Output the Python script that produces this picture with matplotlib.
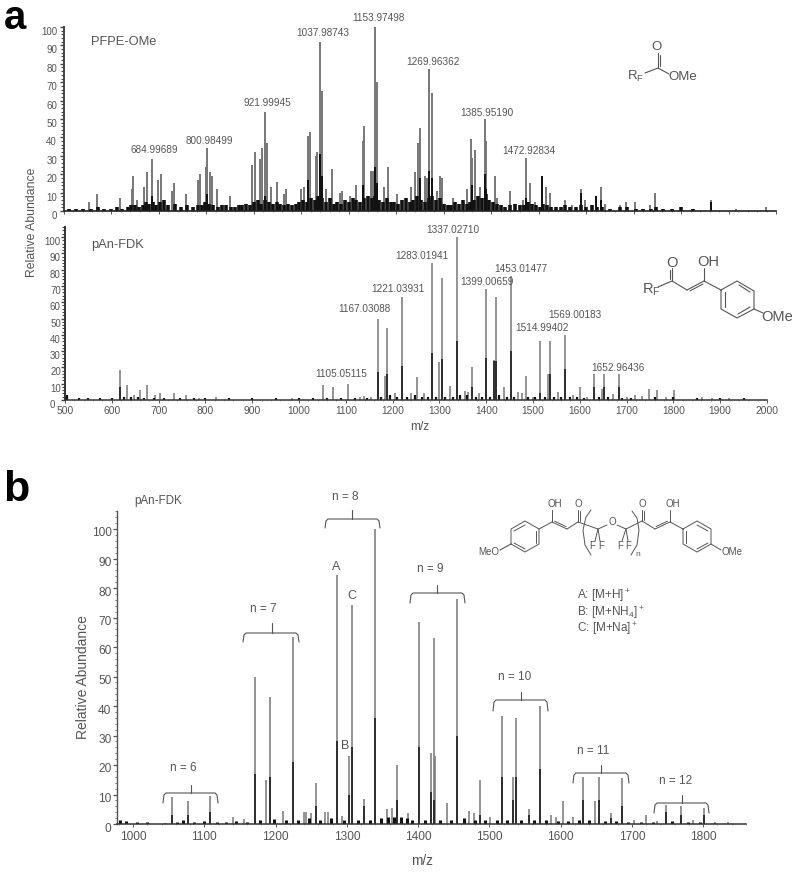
import numpy as np
import matplotlib
matplotlib.use("Agg")
import matplotlib.pyplot as plt
from matplotlib.transforms import ScaledTranslation
from matplotlib.ticker import MultipleLocator

plt.rcParams['font.family'] = ['Liberation Sans', 'DejaVu Sans']
plt.rcParams['mathtext.fontset'] = 'custom'
plt.rcParams['mathtext.rm'] = 'Liberation Sans'
plt.rcParams['mathtext.default'] = 'rm'

# ---------- panel a, top: PFPE-OMe ----------
top_mz = [553,570,618,643,646,653,668,674,685,699,704,727,732,757,783,786,799,802,807,812,822,850,
          897,902,913,918,923,927,937,949,963,967,1000,1005,1014,1018,1031,1034,1039,1043,1053,1065,
          1081,1085,1102,1116,1130,1133,1146,1150,1155,1160,1174,1182,1201,
          1232,1240,1245,1250,1260,1265,1270,1276,1286,1292,1297,1320,1348,1357,1360,1365,1376,1386,
          1390,1407,1412,1439,1468,1474,1481,1492,1506,1515,1523,1556,1570,1589,1598,1620,1631,1640,
          1671,1685,1704,1735,1746,1800,1824,1864,1916,1978]
top_h = [5,9,7,12,19,6,13,21,28,17,20,11,15,9,17,20,24,34,21,19,12,8,
         25,32,28,34,54,37,13,16,9,12,12,13,41,43,30,32,92,65,12,23,
         10,11,8,14,38,46,22,22,100,70,13,24,9,
         13,21,37,45,19,18,77,64,11,19,18,7,12,39,29,33,13,50,
         38,19,7,11,6,29,15,5,19,13,10,6,3,12,6,8,13,4,
         3,5,5,3,10,2,1,6,1,2]
top_core_mz = [685,802,923,1014,1039,1043,1130,1155,1160,1250,1270,1276,1360,1386,1390,1474,1506,1589,1620,1631,1864]
top_core_h = [8,9,8,17,31,19,14,24,15,18,22,18,14,20,12,7,19,10,8,6,5]
top_grass_mz = [510,525,540,556,572,585,598,612,622,634,642,650,658,666,672,680,688,694,702,710,
                720,734,746,760,772,782,790,798,806,814,824,832,842,852,860,868,876,884,892,900,
                908,916,924,932,940,948,956,964,972,980,988,996,1004,1012,1020,1028,1036,1044,1052,1060,
                1068,1076,1084,1092,1100,1108,1116,1124,1132,1140,1148,1156,1164,1172,1180,1188,1196,1204,1212,1220,
                1228,1236,1244,1252,1260,1268,1276,1284,1292,1300,1308,1316,1324,1332,1340,1348,1356,1364,1372,1380,
                1388,1396,1404,1412,1420,1430,1440,1450,1460,1470,1478,1486,1494,1502,1510,1518,1526,1536,1546,1556,
                1566,1578,1590,1600,1612,1622,1634,1650,1672,1686,1706,1720,1736,1748,1762,1780,1800,1825]
top_grass_h = [1,1,1,1,2,1,1,2,1,2,3,3,2,3,5,4,5,3,5,6,
               3,4,2,3,2,3,3,5,4,3,2,3,3,2,2,3,3,4,3,5,
               6,4,6,5,4,5,4,3,4,3,4,5,6,5,7,6,8,7,5,7,
               4,5,4,6,5,7,6,5,7,8,7,8,6,5,7,5,5,4,6,7,
               5,6,8,6,5,7,8,6,7,4,3,3,5,4,6,4,5,6,8,7,
               9,6,5,4,3,2,3,4,3,3,5,4,3,2,4,3,2,2,2,3,
               2,2,3,2,3,2,2,1,2,2,1,1,1,2,1,1,2,1]

# ---------- panel a, bottom: pAn-FDK ----------
mid_mz = [618,633,647,660,675,692,704,732,759,786,822,985,1051,1072,1104,1130,1138,1153,1168,1184,1189,1205,
          1221,1239,1253,1268,1284,1300,1305,1322,1337,1355,1361,1370,1385,1399,1417,1420,1437,1452,1469,1476,
          1484,1499,1515,1533,1536,1553,1568,1585,1600,1615,1630,1647,1652,1670,1684,1701,1717,1733,1747,1766,
          1785,1801,1861,1883,1918]
mid_h = [18.4,9,3,6,9,3,4,4.5,3,1.5,2,1,9,8,10,2,2.5,2,50,15,44,4,
         63,4,14,4,84,23.5,75,8.5,100,5.7,5,20,4,68,24.5,63,8,76,5,4.5,
         15,2,36.4,16,36.4,5,40,3,8,2,16,7,16,3.7,16,2,3,2.5,6.5,6,
         2,6,1.6,1.4,1]
mid_core_mz = [618,1168,1189,1221,1284,1305,1337,1370,1399,1417,1420,1452,1515,1536,1568,1630,1652,1684]
mid_core_h = [8,17,16,21,29,25,36,8,26,24,24,30,4.5,16,19,8,8,8]
mid_grass_mz = [505,530,550,575,600,625,640,655,668,690,712,745,775,800,850,900,950,1000,1030,1060,1090,1120,
                1145,1175,1195,1210,1230,1248,1262,1276,1292,1312,1328,1345,1360,1378,1392,1408,1428,1444,1460,1490,
                1505,1525,1545,1560,1580,1595,1610,1640,1660,1690,1710,1760,1800,1850,1900,1950]
mid_grass_h = [3,1,1,1,1,2,2,2,1,1,1,1,1,1,1,1,1,1,1,1,1,1,
               1,2,3,2,2,3,2,2,2,2,2,3,3,2,2,2,3,2,2,2,
               2,2,2,2,2,2,1,2,2,1,1,2,2,1,1,1]

# ---------- panel b: pAn-FDK expanded ----------
exp_mz = [978,1055,1077,1108,1140,1156,1171,1187,1192,1210,1224,1240,1243,1249,1256,1270,1273,1286,1293,1303,1307,1324,1340,
          1357,1363,1371,1386,1401,1418,1422,1424,1440,1455,1472,1478,1487,1501,1517,1533,1537,1556,1571,1587,1594,1603,1617,
          1632,1648,1654,1671,1686,1703,1719,1735,1748,1769,1786,1801,1817,1835]
exp_h = [3.7,9,7.7,9.4,2.3,1.8,50,15,43,4.3,63.4,4,4,3.7,14,4,4,84.3,2.6,23,74.4,8.5,100,
         5,5.4,20,3.7,68.4,24,63,23,7,76.4,4.5,3.7,14.8,2.4,36.5,16,36,5,40,3,2.3,7.7,2.3,
         16,7.7,16,3.7,15.6,1.5,3,1,6.5,6,1.3,5.4,0.6,0.7]
exp_core_mz = [1055,1077,1108,1171,1192,1224,1256,1286,1303,1307,1324,1340,1371,1401,1418,1422,1455,1487,1517,1533,1537,1556,1571,
               1632,1654,1671,1686,1748,1769,1801]
exp_core_h = [3,3,4,17,16,21,6,28,10,26,6,36,8,26,11,8,30,3,16,8,16,3,18.6,
              8,8,2,6,4,3,3]
exp_grass_mz = [982,990,1005,1020,1045,1062,1070,1085,1100,1118,1130,1145,1160,1178,1198,1215,1232,1247,1262,1278,1296,1315,1332,1348,
                1358,1366,1376,1384,1392,1410,1430,1446,1464,1480,1494,1510,1525,1545,1562,1580,1596,1610,1625,1640,1662,1678,1695,1712,1730,1756,1778,1795,1815]
exp_grass_h = [1.5,1,0.7,0.7,0.5,0.8,1.2,0.6,1,0.8,0.8,1,0.8,1.3,1.8,1.2,1.5,2,1.5,2,1.5,1.2,1.5,2,
               2.5,2.5,2.5,2,1.5,1.2,1.5,1.2,2,1.5,1.2,1.5,1.3,1.5,1.5,1.2,1,1,1.2,1.2,1,1,0.8,0.8,0.8,1,0.8,0.7,0.5]

# ---------- annotation texts ----------
top_labels = ['684.99689','800.98499','921.99945','1037.98743','1153.97498','1269.96362','1385.95190','1472.92834']
mid_labels = ['1105.05115','1167.03088','1221.03931','1283.01941','1337.02710','1399.00659','1453.01477','1514.99402','1569.00183','1652.96436']
group_labels = ['n = 6','n = 7','n = 8','n = 9','n = 10','n = 11','n = 12']

W, H = 800, 874
TXT = '#555555'
GRAY = '#777777'
DARK = '#111111'
fig = plt.figure(figsize=(8, 8.74), dpi=100, facecolor='white')

def make_ax(left, right, y0, y100, ytop, xlim):
    span = (y0 - y100) / 100.0
    ymax = (y0 - ytop) / span
    ax = fig.add_axes([left / W, 1 - y0 / H, (right - left) / W, (y0 - ytop) / H])
    ax.set_xlim(*xlim)
    ax.set_ylim(0, ymax)
    ax.patch.set_alpha(0)
    for s in ('top', 'right'):
        ax.spines[s].set_visible(False)
    return ax

def peaks(ax, mz, h, core_mz, core_h, grass_mz, grass_h, lw, grass_lw):
    ax.vlines(mz, 0, h, color=GRAY, lw=lw)
    ax.vlines(core_mz, 0, core_h, color=DARK, lw=lw)
    ax.vlines(grass_mz, 0, grass_h, color=DARK, lw=grass_lw)

def shift_labels(ax, dy_px, zero_dx=0):
    off = ScaledTranslation(0, -dy_px / 100.0, fig.dpi_scale_trans)
    labs = ax.get_yticklabels()
    for lab in labs:
        lab.set_transform(lab.get_transform() + off)
    if zero_dx:
        labs[0].set_transform(labs[0].get_transform()
                              + ScaledTranslation(zero_dx / 100.0, 0, fig.dpi_scale_trans))

# panel a top
a1 = make_ax(64, 776, 211, 27, 27, (500, 2000))
peaks(a1, top_mz, top_h, top_core_mz, top_core_h, top_grass_mz, top_grass_h, 1.4, 2.6)
a1.set_yticks(range(0, 101, 10))
a1.yaxis.set_minor_locator(MultipleLocator(2))
a1.xaxis.set_major_locator(MultipleLocator(100))
a1.xaxis.set_minor_locator(MultipleLocator(20))
a1.tick_params(axis='y', which='major', length=3, width=1.0, color='#444444', labelsize=7, labelcolor=TXT, pad=2)
a1.tick_params(axis='y', which='minor', length=2, width=0.8, color='#444444')
a1.tick_params(axis='x', which='major', length=2, width=0.7, color='#555555', labelbottom=False)
a1.tick_params(axis='x', which='minor', length=1, width=0.5, color='#777777')
a1.spines['left'].set_color('#444444'); a1.spines['left'].set_linewidth(1.4)
a1.spines['bottom'].set_color('#222222'); a1.spines['bottom'].set_linewidth(1.2)
shift_labels(a1, 4)

# panel a bottom
a2 = make_ax(65, 767, 400, 237, 227, (500, 2000))
peaks(a2, mid_mz, mid_h, mid_core_mz, mid_core_h, mid_grass_mz, mid_grass_h, 1.1, 1.6)
a2.set_yticks(range(0, 101, 10))
a2.yaxis.set_minor_locator(MultipleLocator(2))
a2.set_xticks(range(500, 2001, 100))
a2.xaxis.set_minor_locator(MultipleLocator(20))
a2.tick_params(axis='y', which='major', length=3, width=1.0, color='#444444', labelsize=7, labelcolor=TXT, pad=0)
a2.tick_params(axis='y', which='minor', length=2, width=0.8, color='#444444')
a2.tick_params(axis='x', which='major', length=2, width=0.7, color='#555555', labelsize=7.4, labelcolor=TXT, pad=2)
a2.tick_params(axis='x', which='minor', length=1, width=0.5, color='#777777')
a2.spines['left'].set_color('#333333'); a2.spines['left'].set_linewidth(1.4)
a2.spines['bottom'].set_color('#333333'); a2.spines['bottom'].set_linewidth(1.1)
shift_labels(a2, 4, zero_dx=-6)

# panel b
b = make_ax(117, 746, 824, 529, 511, (977.5, 1860))
peaks(b, exp_mz, exp_h, exp_core_mz, exp_core_h, exp_grass_mz, exp_grass_h, 1.1, 2.2)
b.set_yticks(range(0, 101, 10))
b.yaxis.set_minor_locator(MultipleLocator(2))
b.set_xticks(range(1000, 1801, 100))
b.xaxis.set_minor_locator(MultipleLocator(20))
b.tick_params(axis='y', which='major', length=3, width=0.9, color='#555555', labelsize=8.6, labelcolor=TXT, pad=1)
b.tick_params(axis='y', which='minor', length=1.5, width=0.6, color='#666666')
b.tick_params(axis='x', which='major', length=2, width=0.7, color='#555555', labelsize=8.6, labelcolor=TXT, pad=3)
b.tick_params(axis='x', which='minor', length=1, width=0.5, color='#777777')
b.spines['left'].set_color('#555555'); b.spines['left'].set_linewidth(1.0)
b.spines['bottom'].set_color('#333333'); b.spines['bottom'].set_linewidth(1.1)
shift_labels(b, 3)

# overlay in pixel coordinates for annotations
ov = fig.add_axes([0, 0, 1, 1], zorder=10)
ov.set_xlim(0, W); ov.set_ylim(H, 0); ov.axis('off'); ov.patch.set_alpha(0)

def T(x, y, s, size, color=TXT, **kw):
    kw.setdefault('ha', 'center'); kw.setdefault('va', 'center')
    ov.text(x, y, s, fontsize=size, color=color, **kw)

def L(pts, lw=0.8, color='#555555'):
    xs, ys = zip(*pts)
    ov.plot(xs, ys, color=color, lw=lw, solid_capstyle='round', solid_joinstyle='round')

def DB(p, q, side=2.2, lw=0.8):
    L([p, q], lw)
    p, q = np.array(p, float), np.array(q, float)
    d = q - p; n = np.array([-d[1], d[0]]) / np.hypot(*d) * side
    L([p + n + d * .12, q + n - d * .12], lw)

# panel letters
T(15, 18, 'a', 29, color='black', fontweight='bold')
T(16, 490, 'b', 31, color='black', fontweight='bold')

# axis titles
T(32, 222, 'Relative Abundance', 8.8, rotation=90)
T(420, 427, 'm/z', 8.6)
T(83, 677, 'Relative Abundance', 10, rotation=90)
T(422, 861, 'm/z', 9.8)
T(124, 42, 'PFPE-OMe', 9.3)
T(118, 245, 'pAn-FDK', 9.3)
T(158, 501, 'pAn-FDK', 8.4)

# peak labels
top_xy = [(154,150),(209,141),(267,103),(323,33),(378,18),(433,62),(487,113),(529,151)]
for (x, y), s in zip(top_xy, top_labels):
    T(x, y, s, 7.2)
mid_xy = [(341,374),(364,309),(398,289),(422,256),(453,230),(487,282),(521,269),(542,328),(575,315),(618,368)]
for (x, y), s in zip(mid_xy, mid_labels):
    T(x, y, s, 7.2)

# group brackets
brackets = [(163,218,793,803,191,785,183,768),(243,299,633,642,272,623,263,609),(325,380,519,528,352,510,345,497),
            (410,465,593,603,437,585,430,569),(493,548,700,711,521,692,515,677),(573,629,773,783,601,765,593,751),
            (654,709,803,813,682,795,676,781)]
for (x0, x1, yb, ye, xn, yn, xt, yt), s in zip(brackets, group_labels):
    L([(x0, ye), (x0 + 1, yb + 2), (x0 + 3, yb), (x1 - 3, yb), (x1 - 1, yb + 2), (x1, ye)], 0.8)
    L([(xn, yb), (xn, yn)], 0.8)
    T(xt, yt, s, 8.5)

T(336, 567, 'A', 9); T(352, 596, 'C', 9); T(345, 746, 'B', 9)
T(577, 596, r'A: [M+H]$^+$', 8.5, ha='left')
T(577, 613, r'B: [M+NH$_4$]$^+$', 8.5, ha='left')
T(577, 629, r'C: [M+Na]$^+$', 8.5, ha='left')

# structure 1
T(635, 76, r'R$_{\mathrm{F}}$', 9.5)
L([(645, 73), (658, 68), (669, 74)])
DB((658, 68), (658, 53))
T(657, 47, 'O', 9.5)
T(683, 77, 'OMe', 9.5)

# structure 2
T(651, 290, r'R$_{\mathrm{F}}$', 10.5)
L([(658, 287), (672, 281), (687, 290)])
DB((672, 281), (672, 268), side=-2)
T(672, 263, 'O', 10.5)
DB((687, 290), (704, 281))
L([(704, 281), (704, 268)])
T(708, 262, 'OH', 10.5)
L([(704, 281), (721, 290)])
ring2 = [(721, 290), (737, 281), (754, 291), (754, 309), (737, 318), (721, 309), (721, 290)]
L(ring2)
L([(739, 285), (750, 292)]); L([(750, 307), (738, 314)]); L([(725, 307), (725, 292)])
L([(754, 309), (763, 313)])
T(777, 317, 'OMe', 10.5)

# structure 3
T(489, 552, 'MeO', 7)
L([(500, 550), (511, 544)])
ringL = [(511, 544), (511, 529), (525, 521), (539, 529), (539, 544), (525, 552), (511, 544)]
L(ringL, 0.7)
L([(514, 531), (525, 525)], 0.7); L([(536, 531), (536, 543)], 0.7); L([(514, 543), (525, 549)], 0.7)
L([(539, 529), (552, 522)], 0.7); L([(552, 522), (552, 510)], 0.7)
T(555, 504, 'OH', 7)
DB((552, 522), (567, 529), side=-1.8, lw=0.7)
L([(567, 529), (578, 522)], 0.7)
DB((578, 522), (578, 510), side=1.8, lw=0.7)
T(578, 504, 'O', 7)
L([(578, 522), (598, 529), (607, 525)], 0.7)
L([(598, 529), (595, 541)], 0.7); L([(598, 529), (600, 541)], 0.7)
T(592, 546, 'F', 7); T(601, 546, 'F', 7)
T(612, 522, 'O', 7)
L([(617, 525), (626, 529), (642, 521)], 0.7)
L([(626, 529), (622, 541)], 0.7); L([(626, 529), (628, 541)], 0.7)
T(620, 546, 'F', 7); T(628, 546, 'F', 7)
DB((642, 521), (642, 510), side=1.8, lw=0.7)
T(642, 504, 'O', 7)
L([(642, 521), (655, 529)], 0.7)
DB((655, 529), (670, 522), side=-1.8, lw=0.7)
L([(670, 522), (670, 510)], 0.7)
T(673, 504, 'OH', 7)
L([(670, 522), (683, 529)], 0.7)
ringR = [(683, 529), (697, 521), (711, 529), (711, 544), (697, 552), (683, 544), (683, 529)]
L(ringR, 0.7)
L([(697, 525), (708, 531)], 0.7); L([(708, 543), (697, 549)], 0.7); L([(686, 543), (686, 531)], 0.7)
L([(711, 544), (721, 550)], 0.7)
T(732, 552, 'OMe', 7)
L([(591, 510), (586, 517), (583, 530), (585, 545), (591, 555)], 0.7)
L([(632, 511), (637, 518), (639, 530), (637, 545), (631, 555)], 0.7)
T(638, 554, 'n', 6)

fig.savefig('out.png', dpi=100, facecolor='white')
